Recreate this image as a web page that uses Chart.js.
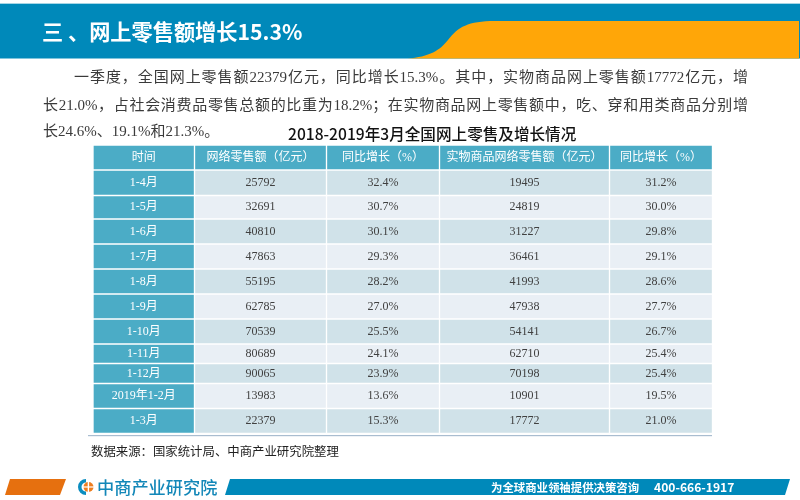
<!DOCTYPE html>
<html>
<head>
<meta charset="utf-8">
<script src="https://cdn.jsdelivr.net/npm/chart.js@4"></script>
<style>
    html, body { margin: 0; padding: 0; background: #fff; }
    #page { position: relative; width: 800px; height: 500px; overflow: hidden; }
    #page > * { position: absolute; }
    #art { left: 0; top: 0; }
    #tableChart { left: 0; top: 0; }
    .txt { white-space: nowrap; font-family: "Noto Sans CJK SC", sans-serif; }
    .para {
        left: 43px; width: 705px; height: 22px; line-height: 22px; font-size: 15px; color: #3a3a3a;
        font-family: "Liberation Serif", "Noto Sans CJK SC", serif;
        text-align: justify; text-align-last: justify;
    }
</style>
</head>
<body>
<div id="page">
    <svg id="art" width="800" height="500">
        <rect x="0" y="3" width="800" height="1.5" fill="#a5d6e6"/>
        <rect x="0" y="4" width="800" height="54.5" fill="#0089ba"/>
        <path d="M407 58.5 C430 57 440 50 448 40 C458 27 468 21 495 21 L799 21 L799 58.5 Z" fill="#ffa608"/>
        <rect x="88" y="435" width="624" height="1.2" fill="#a9bdd0"/>
        <path d="M10 479 L66 479 L60 495 L5 495 Z" fill="#e6700f"/>
        <path d="M230 479 L790 479 L785 495 L225 495 Z" fill="#0089ba"/>
        <path d="M86 479 A8 8 0 1 0 86 495 L86 491.5 A4.5 4.5 0 1 1 86 482.5 Z" fill="#0a8dc0"/>
        <circle cx="88.5" cy="487" r="5" fill="#ed7d1f"/>
        <rect x="87.7" y="480" width="1.4" height="14" fill="#fff"/>
        <rect x="83" y="486.4" width="11" height="1.2" fill="#fff"/>
    </svg>
    <canvas id="tableChart" width="800" height="500"></canvas>
    <div class="txt" style="left:42px;top:15px;line-height:32px;font-size:21.2px;font-weight:700;color:#fff;">三 、网上零售额增长15.3%</div>
    <div class="para" style="top:66px;left:74px;width:674px;">一季度，全国网上零售额22379亿元，同比增长15.3%。其中，实物商品网上零售额17772亿元，增</div>
    <div class="para" style="top:94px;">长21.0%，占社会消费品零售总额的比重为18.2%；在实物商品网上零售额中，吃、穿和用类商品分别增</div>
    <div class="para" style="top:120px;width:auto;text-align-last:left;">长24.6%、19.1%和21.3%。</div>
    <div class="txt" style="left:288px;top:122px;line-height:22px;font-size:15.6px;font-weight:500;color:#111;">2018-2019年3月全国网上零售及增长情况</div>
    <div class="txt" style="left:91px;top:441px;line-height:20px;font-size:12.4px;color:#222;">数据来源：国家统计局、中商产业研究院整理</div>
    <div class="txt" style="left:97px;top:474px;line-height:26px;font-size:17.2px;font-weight:500;color:#1387b8;">中商产业研究院</div>
    <div class="txt" style="left:491px;top:478px;line-height:18px;font-size:11.4px;font-weight:700;color:#fff;">为全球商业领袖提供决策咨询</div>
    <div class="txt" style="left:654px;top:478px;line-height:18px;font-size:12.1px;font-weight:700;color:#fff;">400-666-1917</div>
</div>
<script>
const headers = ["时间", "网络零售额（亿元）", "同比增长（%）", "实物商品网络零售额（亿元）", "同比增长（%）"];
const periods = ["1-4月", "1-5月", "1-6月", "1-7月", "1-8月", "1-9月", "1-10月", "1-11月", "1-12月", "2019年1-2月", "1-3月"];
const onlineSales = [25792, 32691, 40810, 47863, 55195, 62785, 70539, 80689, 90065, 13983, 22379];
const onlineGrowth = ["32.4%", "30.7%", "30.1%", "29.3%", "28.2%", "27.0%", "25.5%", "24.1%", "23.9%", "13.6%", "15.3%"];
const goodsSales = [19495, 24819, 31227, 36461, 41993, 47938, 54141, 62710, 70198, 10901, 17772];
const goodsGrowth = ["31.2%", "30.0%", "29.8%", "29.1%", "28.6%", "27.7%", "26.7%", "25.4%", "25.4%", "19.5%", "21.0%"];

// table grid, one scale unit is one pixel
const columnWidths = [101.5, 132, 113, 170, 103];
const rowHeights = [25, 25.5, 23.5, 25, 25, 25, 25, 25, 19.5, 20, 25, 25];

const columnEdges = [0];
columnWidths.forEach((w) => columnEdges.push(columnEdges[columnEdges.length - 1] + w));
const rowEdges = [0];
rowHeights.forEach((h) => rowEdges.push(rowEdges[rowEdges.length - 1] + h));

const rows = [headers].concat(periods.map((p, i) => [p, onlineSales[i], onlineGrowth[i], goodsSales[i], goodsGrowth[i]]));
const rowCenter = (r) => (rowEdges[r] + rowEdges[r + 1]) / 2;

const cellColor = (r, c) => {
    if (r === 0 || c === 0) return "#4bacc6";
    return r % 2 === 1 ? "#d0e2e9" : "#e9eff5";
};

/* each row is its own dataset so it can have its own height */
const datasets = rows.map((row, r) => ({
    label: String(row[0]),
    stack: "table",
    barThickness: rowHeights[r],
    data: row.map((_, c) => ({ x: [columnEdges[c], columnEdges[c + 1]], y: rowCenter(r) })),
    backgroundColor: row.map((_, c) => cellColor(r, c)),
    borderColor: "#ffffff",
    borderWidth: 1,
    borderSkipped: false,
}));

const cellText = {
    id: "cellText",
    afterDatasetsDraw(chart) {
        const { ctx, scales } = chart;
        ctx.save();
        ctx.textAlign = "center";
        ctx.textBaseline = "middle";
        ctx.font = '12px "Liberation Serif", "Noto Sans CJK SC", serif';
        rows.forEach((row, r) => {
            row.forEach((value, c) => {
                const mid = (columnEdges[c] + columnEdges[c + 1]) / 2;
                ctx.fillStyle = r === 0 || c === 0 ? "#ffffff" : "#404040";
                ctx.fillText(String(value), scales.x.getPixelForValue(mid), scales.y.getPixelForValue(rowCenter(r)));
            });
        });
        ctx.restore();
    },
};

new Chart(document.getElementById("tableChart"), {
    type: "bar",
    data: { datasets },
    plugins: [cellText],
    options: {
        indexAxis: "y",
        responsive: false,
        animation: false,
        layout: { padding: { left: 93, top: 145, right: 800 - 93 - columnEdges[5], bottom: 500 - 145 - rowEdges[12] } },
        plugins: { legend: { display: false }, tooltip: { enabled: false } },
        scales: {
            x: { type: "linear", stacked: false, min: 0, max: columnEdges[5], display: false },
            y: { type: "linear", offset: false, min: 0, max: rowEdges[12], reverse: true, display: false },
        },
    },
});
</script>
</body>
</html>
